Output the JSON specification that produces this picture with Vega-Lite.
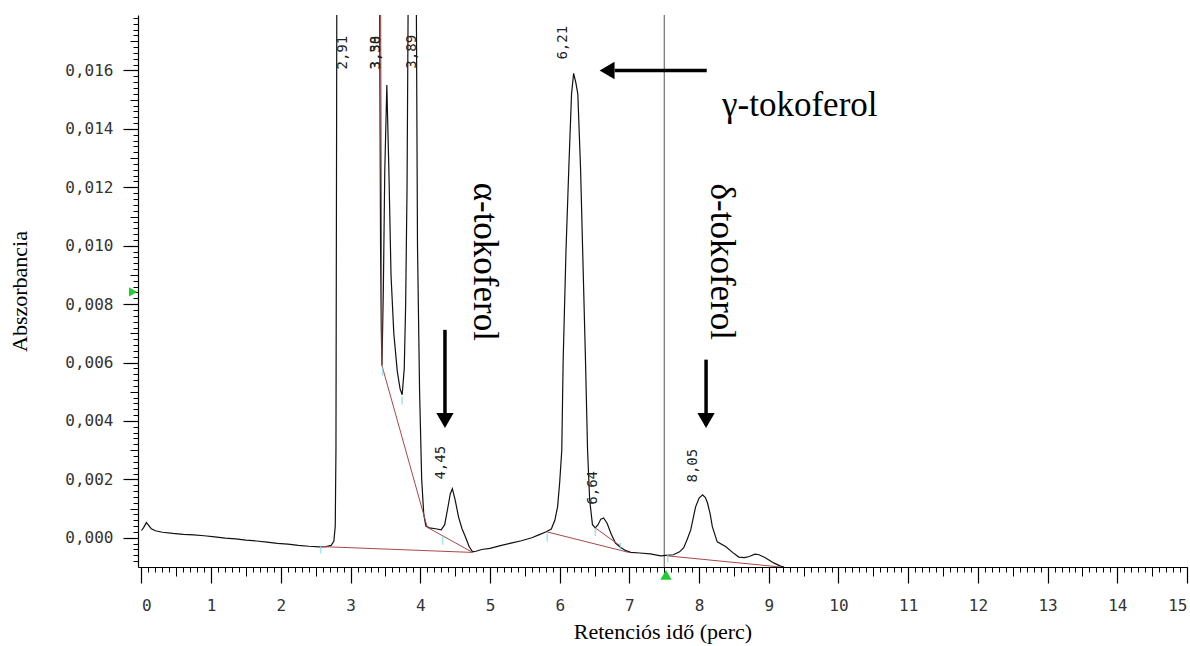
{
  "$schema": "https://vega.github.io/schema/vega-lite/v6.json",
  "width": 1049,
  "height": 552,
  "autosize": {"type": "none"},
  "padding": {"left": 138, "top": 15, "right": 3, "bottom": 79},
  "background": "white",
  "config": {"view": {"stroke": null}, "axis": {"grid": false}},
  "resolve": {"axis": {"x": "independent", "y": "independent"}},
  "datasets": {
    "trace": [
      {"t":0.00,"A":0.00025},{"t":0.03,"A":0.00035},{"t":0.07,"A":0.00052},{"t":0.10,"A":0.00043},{"t":0.14,"A":0.00031},{"t":0.20,"A":0.00024},{"t":0.30,"A":0.00019},{"t":0.45,"A":0.00015},{"t":0.60,"A":0.00012},{"t":0.75,"A":0.00010},{"t":0.90,"A":0.00007},{"t":1.05,"A":0.00003},{"t":1.20,"A":-0.00001},{"t":1.35,"A":-0.00004},{"t":1.50,"A":-0.00008},{"t":1.65,"A":-0.00011},{"t":1.80,"A":-0.00015},{"t":1.95,"A":-0.00019},{"t":2.10,"A":-0.00022},{"t":2.25,"A":-0.00026},{"t":2.40,"A":-0.00029},{"t":2.55,"A":-0.00031},{"t":2.65,"A":-0.00030},{"t":2.72,"A":-0.00026},{"t":2.76,"A":-0.00012},{"t":2.78,"A":0.0004},{"t":2.79,"A":0.003},{"t":2.80,"A":0.015},{"t":2.81,"A":0.03},{"t":2.91,"A":0.06},{"t":3.10,"A":0.05},{"t":3.38,"A":0.045},{"t":3.41,"A":0.03},{"t":3.42,"A":0.016},{"t":3.43,"A":0.010},{"t":3.44,"A":0.0072},{"t":3.45,"A":0.0059},{"t":3.47,"A":0.0085},{"t":3.49,"A":0.0125},{"t":3.52,"A":0.0155},{"t":3.55,"A":0.0125},{"t":3.58,"A":0.0090},{"t":3.62,"A":0.0070},{"t":3.67,"A":0.0057},{"t":3.71,"A":0.0051},{"t":3.74,"A":0.0049},{"t":3.77,"A":0.0058},{"t":3.79,"A":0.0080},{"t":3.81,"A":0.0120},{"t":3.83,"A":0.0200},{"t":3.89,"A":0.0450},{"t":3.94,"A":0.0200},{"t":3.96,"A":0.0100},{"t":3.99,"A":0.0050},{"t":4.02,"A":0.0020},{"t":4.05,"A":0.0008},{"t":4.08,"A":0.0004},{"t":4.13,"A":0.00034},{"t":4.22,"A":0.00031},{"t":4.30,"A":0.00027},{"t":4.35,"A":0.00045},{"t":4.39,"A":0.00096},{"t":4.43,"A":0.00150},{"t":4.46,"A":0.00168},{"t":4.50,"A":0.00130},{"t":4.55,"A":0.00070},{"t":4.60,"A":0.00030},{"t":4.65,"A":0.00002},{"t":4.70,"A":-0.00030},{"t":4.75,"A":-0.00048},{"t":4.80,"A":-0.00046},{"t":4.88,"A":-0.00040},{"t":5.00,"A":-0.00036},{"t":5.15,"A":-0.00027},{"t":5.30,"A":-0.00018},{"t":5.45,"A":-0.00010},{"t":5.60,"A":0.00000},{"t":5.70,"A":0.00010},{"t":5.80,"A":0.00020},{"t":5.88,"A":0.00030},{"t":5.93,"A":0.00060},{"t":5.97,"A":0.00106},{"t":6.00,"A":0.00190},{"t":6.03,"A":0.00300},{"t":6.05,"A":0.00610},{"t":6.09,"A":0.00980},{"t":6.13,"A":0.01260},{"t":6.17,"A":0.01520},{"t":6.20,"A":0.01590},{"t":6.23,"A":0.01560},{"t":6.26,"A":0.01520},{"t":6.30,"A":0.01260},{"t":6.33,"A":0.00980},{"t":6.37,"A":0.00610},{"t":6.40,"A":0.00300},{"t":6.43,"A":0.00130},{"t":6.47,"A":0.00045},{"t":6.51,"A":0.00034},{"t":6.55,"A":0.00045},{"t":6.59,"A":0.00064},{"t":6.63,"A":0.00068},{"t":6.68,"A":0.00050},{"t":6.74,"A":0.00012},{"t":6.80,"A":-0.00018},{"t":6.87,"A":-0.00032},{"t":6.95,"A":-0.00044},{"t":7.02,"A":-0.00050},{"t":7.15,"A":-0.00052},{"t":7.30,"A":-0.00055},{"t":7.45,"A":-0.00062},{"t":7.52,"A":-0.00060},{"t":7.63,"A":-0.00058},{"t":7.72,"A":-0.00048},{"t":7.78,"A":-0.00034},{"t":7.83,"A":-0.00005},{"t":7.88,"A":0.00027},{"t":7.95,"A":0.00106},{"t":8.00,"A":0.00136},{"t":8.05,"A":0.00147},{"t":8.09,"A":0.00138},{"t":8.12,"A":0.00120},{"t":8.16,"A":0.00080},{"t":8.19,"A":0.00038},{"t":8.26,"A":-0.00014},{"t":8.38,"A":-0.00030},{"t":8.48,"A":-0.00050},{"t":8.57,"A":-0.00066},{"t":8.65,"A":-0.00068},{"t":8.72,"A":-0.00064},{"t":8.80,"A":-0.00056},{"t":8.86,"A":-0.00058},{"t":8.95,"A":-0.00068},{"t":9.07,"A":-0.00086},{"t":9.17,"A":-0.00097},{"t":9.22,"A":-0.00100}
    ],
    "baselines": [
      {"seg":"a","t":2.57,"A":-0.00030},{"seg":"a","t":4.74,"A":-0.00050},
      {"seg":"b","t":3.43,"A":0.019},{"seg":"b","t":3.45,"A":0.0059},{"seg":"b","t":4.10,"A":0.00036},{"seg":"b","t":4.75,"A":-0.00050},
      {"seg":"c","t":5.82,"A":0.00020},{"seg":"c","t":6.99,"A":-0.00050},
      {"seg":"d","t":6.51,"A":0.00034},{"seg":"d","t":6.87,"A":-0.00028},
      {"seg":"e","t":7.55,"A":-0.00062},{"seg":"e","t":9.17,"A":-0.00100}
    ],
    "cuts": [
      {"t":2.57,"A":-0.0004},{"t":3.46,"A":0.0057},{"t":3.74,"A":0.0047},{"t":4.32,"A":-0.0001},{"t":5.82,"A":0.0000},{"t":6.51,"A":0.0002},{"t":6.87,"A":-0.0003},{"t":7.55,"A":-0.0007}
    ],
    "vline": [{"t":7.5}],
    "peaks": [
      {"t":2.89,"A":0.01661,"label":"2,91"},
      {"t":3.36,"A":0.01661,"label":"3,38"},
      {"t":3.37,"A":0.01661,"label":"3,50"},
      {"t":3.88,"A":0.01664,"label":"3,89"},
      {"t":6.05,"A":0.01695,"label":"6,21"},
      {"t":4.30,"A":0.00257,"label":"4,45"},
      {"t":6.48,"A":0.00171,"label":"6,64"},
      {"t":7.91,"A":0.00247,"label":"8,05"}
    ],
    "namesH": [{"t":8.33,"A":0.01483,"label":"γ-tokoferol"}],
    "namesV": [
      {"t":4.93,"A":0.00945,"label":"α-tokoferol"},
      {"t":8.33,"A":0.00945,"label":"δ-tokoferol"}
    ],
    "arrows": [
      {"t":6.79,"t2":8.11,"A":0.0160,"A2":0.0160},
      {"t":4.354,"t2":4.354,"A":0.00712,"A2":0.00425},
      {"t":8.10,"t2":8.10,"A":0.0061,"A2":0.00425}
    ],
    "heads": [
      {"t":6.68,"A":0.0160,"dir":"left"},
      {"t":4.354,"A":0.00402,"dir":"down"},
      {"t":8.10,"A":0.00402,"dir":"down"}
    ],
    "gmarkY": [{"t":-0.12,"A":0.00842}],
    "gmarkX": [{"t":7.525,"A":-0.00127}]
  },
  "layer": [
    {
      "data": {"name": "vline"},
      "mark": {"type": "rule", "color": "#555555", "strokeWidth": 1},
      "encoding": {
        "x": {"field": "t", "type": "quantitative", "scale": {"domain": [-0.05, 15], "nice": false, "zero": false}, "axis": null}
      }
    },
    {
      "data": {"name": "trace"},
      "mark": {"type": "line", "color": "#111111", "strokeWidth": 1.2, "clip": true},
      "encoding": {
        "x": {"field": "t", "type": "quantitative", "scale": {"domain": [-0.05, 15], "nice": false, "zero": false},
          "axis": {"title": "Retenciós idő (perc)", "orient": "bottom", "values": [0,1,2,3,4,5,6,7,8,9,10,11,12,13,14,15], "format": "d",
            "tickSize": 16, "tickColor": "#000000", "tickWidth": 1.2, "domainColor": "#000000", "domainWidth": 1.2,
            "labelFont": "DejaVu Sans Mono", "labelFontSize": 16, "labelColor": "#333333", "labelPadding": 14, "labelFlush": 5, "labelOverlap": false,
            "titleFont": "Liberation Serif", "titleFontSize": 22, "titleFontWeight": "normal", "titleColor": "#000000", "titlePadding": 8, "grid": false}},
        "y": {"field": "A", "type": "quantitative", "scale": {"domain": [-0.001, 0.0179], "nice": false, "zero": false},
          "axis": {"title": "Abszorbancia", "orient": "left", "values": [0,0.002,0.004,0.006,0.008,0.01,0.012,0.014,0.016],
            "labelExpr": "replace(format(datum.value, '.3f'), '.', ',')",
            "tickSize": 15, "tickColor": "#000000", "tickWidth": 1.2, "domainColor": "#000000", "domainWidth": 1.2,
            "labelFont": "DejaVu Sans Mono", "labelFontSize": 16, "labelColor": "#333333", "labelPadding": 10, "labelOverlap": false,
            "titleFont": "Liberation Serif", "titleFontSize": 22, "titleFontWeight": "normal", "titleColor": "#000000", "titlePadding": 33, "grid": false}}
      }
    },
    {
      "data": {"name": "baselines"},
      "mark": {"type": "line", "color": "#a84848", "strokeWidth": 1, "clip": true},
      "encoding": {
        "detail": {"field": "seg", "type": "nominal"},
        "x": {"field": "t", "type": "quantitative", "scale": {"domain": [-0.05, 15], "nice": false, "zero": false},
          "axis": {"orient": "bottom", "title": null, "labels": false, "domain": false, "tickSize": 5, "tickColor": "#000000", "grid": false,
            "values": [0,0.1,0.2,0.3,0.4,0.5,0.6,0.7,0.8,0.9,1,1.1,1.2,1.3,1.4,1.5,1.6,1.7,1.8,1.9,2,2.1,2.2,2.3,2.4,2.5,2.6,2.7,2.8,2.9,3,3.1,3.2,3.3,3.4,3.5,3.6,3.7,3.8,3.9,4,4.1,4.2,4.3,4.4,4.5,4.6,4.7,4.8,4.9,5,5.1,5.2,5.3,5.4,5.5,5.6,5.7,5.8,5.9,6,6.1,6.2,6.3,6.4,6.5,6.6,6.7,6.8,6.9,7,7.1,7.2,7.3,7.4,7.5,7.6,7.7,7.8,7.9,8,8.1,8.2,8.3,8.4,8.5,8.6,8.7,8.8,8.9,9,9.1,9.2,9.3,9.4,9.5,9.6,9.7,9.8,9.9,10,10.1,10.2,10.3,10.4,10.5,10.6,10.7,10.8,10.9,11,11.1,11.2,11.3,11.4,11.5,11.6,11.7,11.8,11.9,12,12.1,12.2,12.3,12.4,12.5,12.6,12.7,12.8,12.9,13,13.1,13.2,13.3,13.4,13.5,13.6,13.7,13.8,13.9,14,14.1,14.2,14.3,14.4,14.5,14.6,14.7,14.8,14.9,15]}},
        "y": {"field": "A", "type": "quantitative", "scale": {"domain": [-0.001, 0.0179], "nice": false, "zero": false},
          "axis": {"orient": "left", "title": null, "labels": false, "domain": false, "tickSize": 5, "tickColor": "#000000", "grid": false,
            "values": [-0.0008,-0.0006,-0.0004,-0.0002,0,0.0002,0.0004,0.0006,0.0008,0.001,0.0012,0.0014,0.0016,0.0018,0.002,0.0022,0.0024,0.0026,0.0028,0.003,0.0032,0.0034,0.0036,0.0038,0.004,0.0042,0.0044,0.0046,0.0048,0.005,0.0052,0.0054,0.0056,0.0058,0.006,0.0062,0.0064,0.0066,0.0068,0.007,0.0072,0.0074,0.0076,0.0078,0.008,0.0082,0.0084,0.0086,0.0088,0.009,0.0092,0.0094,0.0096,0.0098,0.01,0.0102,0.0104,0.0106,0.0108,0.011,0.0112,0.0114,0.0116,0.0118,0.012,0.0122,0.0124,0.0126,0.0128,0.013,0.0132,0.0134,0.0136,0.0138,0.014,0.0142,0.0144,0.0146,0.0148,0.015,0.0152,0.0154,0.0156,0.0158,0.016,0.0162,0.0164,0.0166,0.0168,0.017,0.0172,0.0174,0.0176,0.0178]}}
      }
    },
    {
      "data": {"name": "cuts"},
      "mark": {"type": "tick", "orient": "vertical", "color": "#7fd6e6", "size": 8, "thickness": 1.5},
      "encoding": {
        "x": {"field": "t", "type": "quantitative", "scale": {"domain": [-0.05, 15], "nice": false, "zero": false},
          "axis": {"orient": "bottom", "title": null, "labels": false, "domain": false, "tickSize": 9, "tickColor": "#000000", "grid": false,
            "values": [0.5,1.5,2.5,3.5,4.5,5.5,6.5,7.5,8.5,9.5,10.5,11.5,12.5,13.5,14.5]}},
        "y": {"field": "A", "type": "quantitative", "scale": {"domain": [-0.001, 0.0179], "nice": false, "zero": false},
          "axis": {"orient": "left", "title": null, "labels": false, "domain": false, "tickSize": 8, "tickColor": "#000000", "grid": false,
            "values": [0.001,0.003,0.005,0.007,0.009,0.011,0.013,0.015,0.017]}}
      }
    },
    {
      "data": {"name": "peaks"},
      "mark": {"type": "text", "angle": 270, "align": "center", "baseline": "middle", "font": "DejaVu Sans Mono", "fontSize": 14, "color": "#222222"},
      "encoding": {
        "x": {"field": "t", "type": "quantitative", "scale": {"domain": [-0.05, 15], "nice": false, "zero": false}, "axis": null},
        "y": {"field": "A", "type": "quantitative", "scale": {"domain": [-0.001, 0.0179], "nice": false, "zero": false}, "axis": null},
        "text": {"field": "label", "type": "nominal"}
      }
    },
    {
      "data": {"name": "namesH"},
      "mark": {"type": "text", "align": "left", "baseline": "middle", "font": "Liberation Serif", "fontSize": 35, "color": "#000000"},
      "encoding": {
        "x": {"field": "t", "type": "quantitative", "scale": {"domain": [-0.05, 15], "nice": false, "zero": false}, "axis": null},
        "y": {"field": "A", "type": "quantitative", "scale": {"domain": [-0.001, 0.0179], "nice": false, "zero": false}, "axis": null},
        "text": {"field": "label", "type": "nominal"}
      }
    },
    {
      "data": {"name": "namesV"},
      "mark": {"type": "text", "angle": 90, "align": "center", "baseline": "middle", "font": "Liberation Serif", "fontSize": 35, "color": "#000000"},
      "encoding": {
        "x": {"field": "t", "type": "quantitative", "scale": {"domain": [-0.05, 15], "nice": false, "zero": false}, "axis": null},
        "y": {"field": "A", "type": "quantitative", "scale": {"domain": [-0.001, 0.0179], "nice": false, "zero": false}, "axis": null},
        "text": {"field": "label", "type": "nominal"}
      }
    },
    {
      "data": {"name": "arrows"},
      "mark": {"type": "rule", "color": "#000000", "strokeWidth": 3.5},
      "encoding": {
        "x": {"field": "t", "type": "quantitative", "scale": {"domain": [-0.05, 15], "nice": false, "zero": false}, "axis": null},
        "x2": {"field": "t2"},
        "y": {"field": "A", "type": "quantitative", "scale": {"domain": [-0.001, 0.0179], "nice": false, "zero": false}, "axis": null},
        "y2": {"field": "A2"}
      }
    },
    {
      "data": {"name": "heads"},
      "mark": {"type": "point", "filled": true, "color": "#000000", "opacity": 1, "size": 300},
      "encoding": {
        "x": {"field": "t", "type": "quantitative", "scale": {"domain": [-0.05, 15], "nice": false, "zero": false}, "axis": null},
        "y": {"field": "A", "type": "quantitative", "scale": {"domain": [-0.001, 0.0179], "nice": false, "zero": false}, "axis": null},
        "shape": {"field": "dir", "type": "nominal", "scale": {"domain": ["down", "left"], "range": ["triangle-down", "triangle-left"]}, "legend": null}
      }
    },
    {
      "data": {"name": "gmarkY"},
      "mark": {"type": "point", "filled": true, "color": "#22cc33", "opacity": 1, "size": 90, "shape": "triangle-right"},
      "encoding": {
        "x": {"field": "t", "type": "quantitative", "scale": {"domain": [-0.05, 15], "nice": false, "zero": false}, "axis": null},
        "y": {"field": "A", "type": "quantitative", "scale": {"domain": [-0.001, 0.0179], "nice": false, "zero": false}, "axis": null}
      }
    },
    {
      "data": {"name": "gmarkX"},
      "mark": {"type": "point", "filled": true, "color": "#22cc33", "opacity": 1, "size": 130, "shape": "triangle-up"},
      "encoding": {
        "x": {"field": "t", "type": "quantitative", "scale": {"domain": [-0.05, 15], "nice": false, "zero": false}, "axis": null},
        "y": {"field": "A", "type": "quantitative", "scale": {"domain": [-0.001, 0.0179], "nice": false, "zero": false}, "axis": null}
      }
    }
  ]
}
